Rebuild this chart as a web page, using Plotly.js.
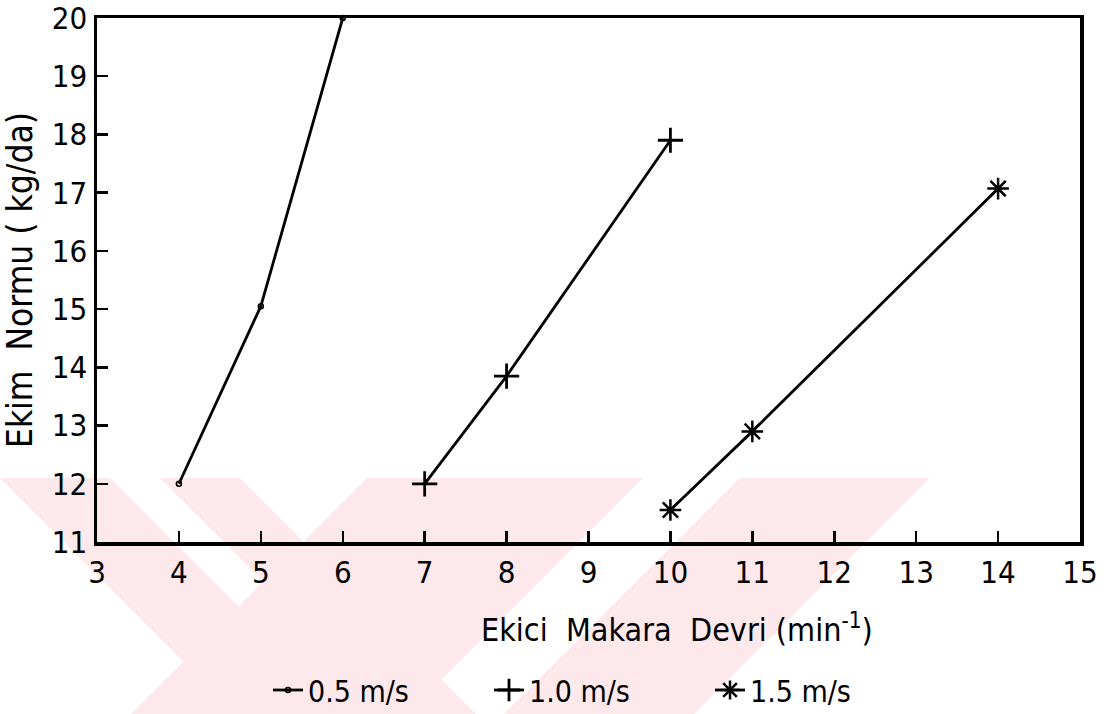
<!DOCTYPE html>
<html>
<head>
<meta charset="utf-8">
<script src="https://cdn.plot.ly/plotly-3.0.1.min.js"></script>
<style>
  html, body { margin: 0; padding: 0; background: #ffffff; }
  #chart { width: 1107px; height: 714px; }
</style>
</head>
<body>
<div id="chart"></div>
<script>
// ---- data ----
const seriesNames = ['0.5 m/s', '1.0 m/s', '1.5 m/s'];
const x05 = [4, 5, 6];
const y05 = [12.0, 15.05, 20.0];
const x10 = [7, 8, 10];
const y10 = [12.0, 13.85, 17.9];
const x15 = [10, 11, 14];
const y15 = [11.55, 12.9, 17.07];
const xTicks = [3, 4, 5, 6, 7, 8, 9, 10, 11, 12, 13, 14, 15];
const yTicks = [11, 12, 13, 14, 15, 16, 17, 18, 19, 20];
const xTitle = 'Ekici\u00A0\u00A0Makara\u00A0\u00A0Devri\u00A0(min<sup>-1</sup>)';
const yTitle = 'Ekim\u00A0\u00A0Normu\u00A0(\u00A0kg/da)';

const FONT = '"DejaVu Sans Condensed", "DejaVu Sans", sans-serif';

// plot area geometry (pixels)
const W = 1107, H = 714;
const M = {l: 97, r: 27, t: 18, b: 172, autoexpand: false};
const pw = W - M.l - M.r, ph = H - M.t - M.b;
function px(x) { return (x - M.l) / pw; }
function py(y) { return (H - M.b - y) / ph; }

// background watermark (light pink diagonal bands)
const wmTop = 478, wmBot = 780;
const backBands = [[0, 110], [160, 240]];      // "\" bands, x at top edge
const fwdBands = [[367, 643], [740, 930]];     // "/" bands, x at top edge
function bandPath(a, b, dir) {
  const d = wmBot - wmTop;
  const pts = [[a, wmTop], [b, wmTop], [b + dir * d, wmBot], [a + dir * d, wmBot]];
  return 'M' + pts.map(p => px(p[0]).toFixed(4) + ',' + py(p[1]).toFixed(4)).join(' L') + ' Z';
}
const shapes = [];
backBands.forEach(b => shapes.push({type: 'path', xref: 'paper', yref: 'paper', path: bandPath(b[0], b[1], 1),
  fillcolor: '#fde9ec', line: {width: 0}, layer: 'below'}));
fwdBands.forEach(b => shapes.push({type: 'path', xref: 'paper', yref: 'paper', path: bandPath(b[0], b[1], -1),
  fillcolor: '#fde9ec', line: {width: 0}, layer: 'below'}));

const traces = [
  {x: x05, y: y05, name: seriesNames[0], mode: 'lines+markers', cliponaxis: false,
   line: {color: '#000', width: 2.8},
   marker: {symbol: 'circle-open', size: 5, color: '#000', line: {color: '#000', width: 1.6}}},
  {x: x10, y: y10, name: seriesNames[1], mode: 'lines+markers', cliponaxis: false,
   line: {color: '#000', width: 2.8},
   marker: {symbol: 'cross-thin', size: 18, color: '#000', line: {color: '#000', width: 2.8}}},
  {x: x15, y: y15, name: seriesNames[2], mode: 'lines+markers', cliponaxis: false,
   line: {color: '#000', width: 2.8},
   marker: {symbol: 'asterisk', size: 18, color: '#000', line: {color: '#000', width: 2.5}}}
];

const layout = {
  width: W, height: H, autosize: false,
  margin: M,
  paper_bgcolor: '#ffffff',
  plot_bgcolor: 'rgba(0,0,0,0)',
  font: {family: FONT, color: '#000', size: 30},
  showlegend: true,
  legend: {orientation: 'h', x: px(268), xanchor: 'left', y: py(690), yanchor: 'middle',
           font: {family: FONT, size: 30, color: '#000'}, bgcolor: 'rgba(0,0,0,0)',
           itemwidth: 30, entrywidth: 176, entrywidthmode: 'pixels', tracegroupgap: 0},
  xaxis: {
    range: [3, 15], tickvals: xTicks, ticktext: xTicks.map(String),
    showgrid: false, zeroline: false,
    showline: true, mirror: true, linecolor: '#000', linewidth: 3.5,
    ticks: 'inside', ticklen: 11, tickwidth: 2.5, tickcolor: '#000',
    ticklabeloverflow: 'allow',
    tickfont: {family: FONT, size: 31, color: '#000'}
  },
  yaxis: {
    range: [11, 20.0001], tickvals: yTicks, ticktext: yTicks.map(String),
    showgrid: false, zeroline: false,
    showline: true, mirror: true, linecolor: '#000', linewidth: 3.5,
    ticks: 'inside', ticklen: 11, tickwidth: 2.5, tickcolor: '#000',
    ticklabeloverflow: 'allow',
    tickfont: {family: FONT, size: 31, color: '#000'},
    title: {text: yTitle, font: {family: FONT, size: 35, color: '#000'}, standoff: 12}
  },
  annotations: [
    {text: xTitle, xref: 'paper', yref: 'paper', x: px(677), y: py(628),
     xanchor: 'center', yanchor: 'middle', showarrow: false,
     font: {family: FONT, size: 32, color: '#000'}}
  ],
  shapes: shapes
};

Plotly.newPlot('chart', traces, layout, {staticPlot: true, displayModeBar: false});
</script>
</body>
</html>
